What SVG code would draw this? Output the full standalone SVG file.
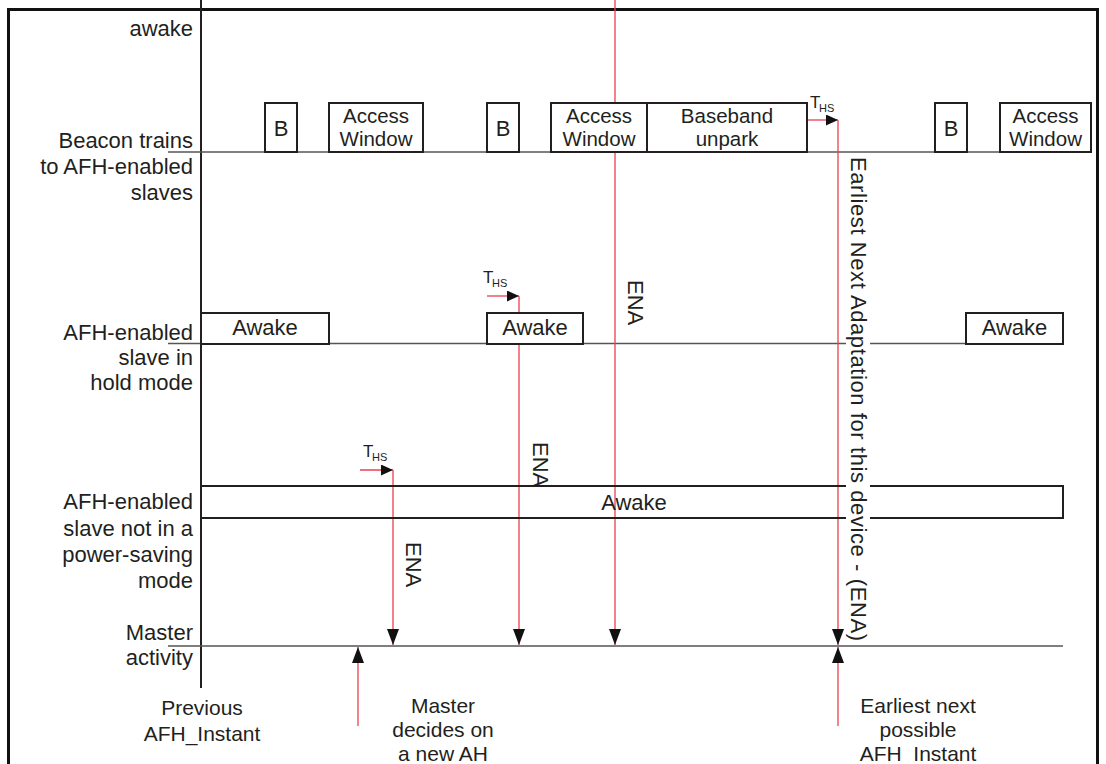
<svg xmlns="http://www.w3.org/2000/svg" width="1106" height="764" viewBox="0 0 1106 764">
<defs>
<style>
text{font-family:"Liberation Sans",Arial,sans-serif;font-size:22px;fill:#231f20}
.lbl{text-anchor:end}
.ctr{text-anchor:middle}
.bot{text-anchor:middle;font-size:21px}
.bx{text-anchor:middle;font-size:20.5px}
.row{stroke:#555;stroke-width:1.6;fill:none}
.box{stroke:#231f20;stroke-width:2;fill:#fff}
.boxn{stroke:#231f20;stroke-width:2;fill:none}
.red{stroke:#e8414f;stroke-width:1.3;fill:none}
.down{marker-end:url(#ah)}
.ths{marker-end:url(#sh)}
.t{font-size:17px}
.hs{font-size:11px}
</style>
<marker id="ah" markerUnits="userSpaceOnUse" viewBox="0 0 16 12" refX="16" refY="6" markerWidth="16" markerHeight="12" orient="auto"><path d="M0,0 L16,6 L0,12 z" fill="#111"/></marker>
<marker id="sh" markerUnits="userSpaceOnUse" viewBox="0 0 12 11" refX="12" refY="5.5" markerWidth="12" markerHeight="11" orient="auto"><path d="M0,0 L12,5.5 L0,11 z" fill="#111"/></marker>
</defs>
<rect width="1106" height="764" fill="#fff"/>

<g id="frame" stroke="#111" fill="none">
<line x1="7" y1="9.5" x2="1099" y2="9.5" stroke-width="3"/>
<line x1="8.5" y1="8" x2="8.5" y2="764" stroke-width="3"/>
<line x1="1097.5" y1="8" x2="1097.5" y2="764" stroke-width="3"/>
<line x1="201" y1="0" x2="201" y2="688" stroke="#231f20" stroke-width="2"/>
</g>

<g id="rows">
<line class="row" x1="168" y1="152" x2="1091" y2="152"/>
<line class="row" x1="168" y1="343.5" x2="1063" y2="343.5"/>
<line class="row" x1="168" y1="646" x2="1063" y2="646"/>
</g>

<g id="labels">
<text class="lbl" x="193" y="36">awake</text>
<text class="lbl" x="193" y="148">Beacon trains</text>
<text class="lbl" x="193" y="174">to AFH-enabled</text>
<text class="lbl" x="193" y="200">slaves</text>
<text class="lbl" x="193" y="340">AFH-enabled</text>
<text class="lbl" x="193" y="365">slave in</text>
<text class="lbl" x="193" y="390">hold mode</text>
<text class="lbl" x="193" y="509">AFH-enabled</text>
<text class="lbl" x="193" y="536">slave not in a</text>
<text class="lbl" x="193" y="562">power-saving</text>
<text class="lbl" x="193" y="588">mode</text>
<text class="lbl" x="193" y="640">Master</text>
<text class="lbl" x="193" y="665">activity</text>
<text class="bot" x="202" y="715">Previous</text>
<text class="bot" x="202" y="741">AFH_Instant</text>
<text class="bot" x="443" y="713">Master</text>
<text class="bot" x="443" y="737">decides on</text>
<text class="bot" x="443" y="761">a new AH</text>
<text class="bot" x="918" y="713">Earliest next</text>
<text class="bot" x="918" y="737">possible</text>
<text class="bot" x="918" y="761">AFH_Instant</text>
</g>

<g id="connectors">
<line class="red down" x1="615" y1="0" x2="615" y2="645"/>
<line class="red ths" x1="808" y1="120" x2="838" y2="120"/>
<line class="red down" x1="838" y1="120" x2="838" y2="645"/>
<line class="red ths" x1="487" y1="296" x2="519" y2="296"/>
<line class="red down" x1="519" y1="296" x2="519" y2="645"/>
<line class="red ths" x1="360" y1="470" x2="393" y2="470"/>
<line class="red down" x1="393" y1="470" x2="393" y2="645"/>
<line class="red down" x1="358" y1="726" x2="358" y2="647"/>
<line class="red down" x1="838" y1="726" x2="838" y2="647"/>
</g>

<g id="ths-labels">
<text class="t" x="810" y="108">T</text><text class="hs" x="819" y="112">HS</text>
<text class="t" x="483" y="283">T</text><text class="hs" x="492" y="287">HS</text>
<text class="t" x="363" y="457">T</text><text class="hs" x="372" y="461">HS</text>
</g>

<g id="beacon-B1"><rect class="box" x="265" y="103" width="32" height="49"/><text class="ctr" x="281" y="136">B</text></g>
<g id="beacon-AW1"><rect class="box" x="329" y="103" width="94" height="49"/><text class="bx" x="376" y="123">Access</text><text class="bx" x="376" y="146">Window</text></g>
<g id="beacon-B2"><rect class="box" x="487" y="103" width="32" height="49"/><text class="ctr" x="503" y="136">B</text></g>
<g id="beacon-AW2"><rect class="box" x="551" y="103" width="96" height="49"/><text class="bx" x="599" y="123">Access</text><text class="bx" x="599" y="146">Window</text></g>
<g id="beacon-unpark"><rect class="box" x="647" y="103" width="160" height="49"/><text class="bx" x="727" y="123">Baseband</text><text class="bx" x="727" y="146">unpark</text></g>
<g id="beacon-B3"><rect class="box" x="935" y="103" width="32" height="49"/><text class="ctr" x="951" y="136">B</text></g>
<g id="beacon-AW3"><rect class="box" x="1000" y="103" width="91" height="49"/><text class="bx" x="1045.5" y="123">Access</text><text class="bx" x="1045.5" y="146">Window</text></g>

<g id="hold-awake1"><rect class="box" x="201" y="313" width="128" height="31"/><text class="ctr" x="265" y="335">Awake</text></g>
<g id="hold-awake2"><rect class="box" x="487" y="313" width="96" height="31"/><text class="ctr" x="535" y="335">Awake</text></g>
<g id="hold-awake3"><rect class="box" x="966" y="313" width="97" height="31"/><text class="ctr" x="1014.5" y="335">Awake</text></g>

<g id="active-awake"><rect class="boxn" x="201" y="486" width="862" height="32"/><text class="ctr" x="634" y="510">Awake</text></g>

<g id="ena-labels">
<text transform="translate(628,280) rotate(90)">ENA</text>
<text transform="translate(533,442) rotate(90)">ENA</text>
<text transform="translate(406,542) rotate(90)">ENA</text>
<rect x="846" y="156" width="24" height="487" fill="#fff"/>
<text transform="translate(851,157) rotate(90)" textLength="484" lengthAdjust="spacing">Earliest Next Adaptation for this device - (ENA)</text>
</g>
</svg>
